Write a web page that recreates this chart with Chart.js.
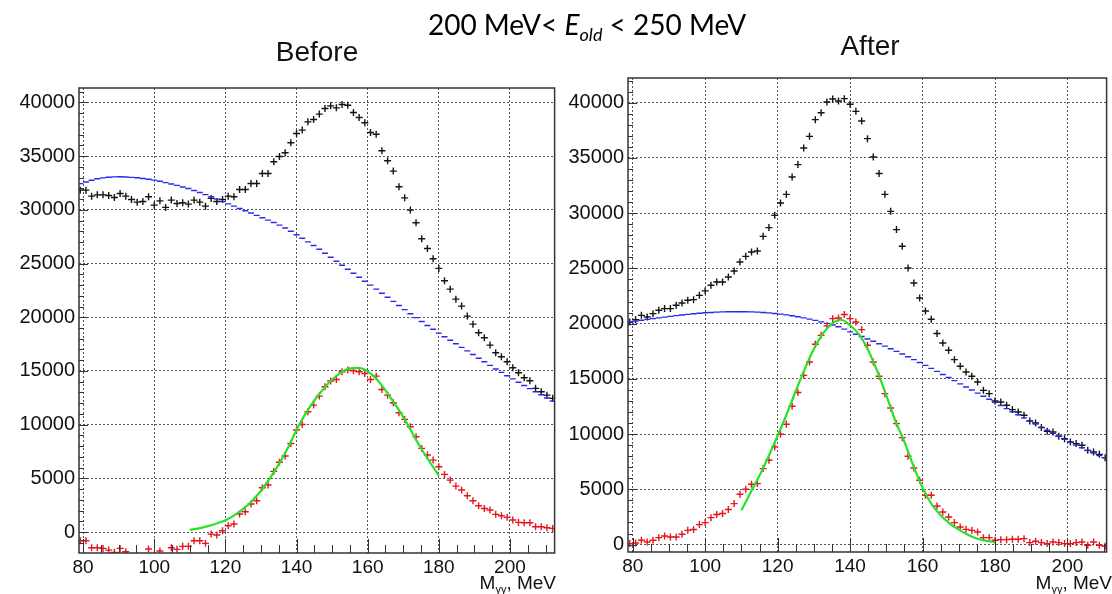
<!DOCTYPE html>
<html>
<head>
<meta charset="utf-8">
<script src="https://cdn.jsdelivr.net/npm/chart.js@4.4.0/dist/chart.umd.min.js"></script>
<style>
    html, body { margin: 0; padding: 0; background: #fff; overflow: hidden; }
    body { width: 1112px; height: 594px; position: relative; font-family: "Liberation Sans", Arial, sans-serif; color: #111; }
    canvas { position: absolute; top: 0; }
    #beforeChart { left: 0; }
    #afterChart { left: 560px; }
    .txt { position: absolute; white-space: nowrap; line-height: 1; }
    #mainTitle { left: 587px; top: 10px; transform: translateX(-50%); font-family: Lato, "Open Sans", sans-serif; font-size: 28px; color: #000; }
    #mainTitle i { font-style: italic; }
    #mainTitle sub { font-size: 18px; vertical-align: -6px; line-height: 0; }
    #beforeTitle { left: 317px; top: 38px; transform: translateX(-50%); font-size: 28px; }
    #afterTitle { left: 870px; top: 32px; transform: translateX(-50%); font-size: 28px; }
    .axisTitle { font-size: 19px; top: 573px; }
    .axisTitle sub { font-size: 11px; vertical-align: -4px; line-height: 0; }
    #beforeAxis { right: 556px; }
    #afterAxis { right: 0px; }
</style>
</head>
<body>

<canvas id="beforeChart" width="560" height="594"></canvas>
<canvas id="afterChart" width="552" height="594"></canvas>

<div id="mainTitle" class="txt">200 MeV&lt; <i>E<sub>old</sub></i> &lt; 250 MeV</div>
<div id="beforeTitle" class="txt">Before</div>
<div id="afterTitle" class="txt">After</div>
<div id="beforeAxis" class="txt axisTitle">M<sub>γγ</sub>, MeV</div>
<div id="afterAxis" class="txt axisTitle">M<sub>γγ</sub>, MeV</div>

<script>

// =====================================
// DATA
// =====================================

// centres of the M_gg bins, MeV
const binCenters = [
    79.2, 80.8, 82.4, 84.0, 85.6, 87.2, 88.8, 90.4, 92.0, 93.6,
    95.2, 96.8, 98.4, 100.0, 101.6, 103.2, 104.8, 106.4, 108.0, 109.6,
    111.2, 112.8, 114.4, 116.0, 117.6, 119.2, 120.8, 122.4, 124.0, 125.6,
    127.2, 128.8, 130.4, 132.0, 133.6, 135.2, 136.8, 138.4, 140.0, 141.6,
    143.2, 144.8, 146.4, 148.0, 149.6, 151.2, 152.8, 154.4, 156.0, 157.6,
    159.2, 160.8, 162.4, 164.0, 165.6, 167.2, 168.8, 170.4, 172.0, 173.6,
    175.2, 176.8, 178.4, 180.0, 181.6, 183.2, 184.8, 186.4, 188.0, 189.6,
    191.2, 192.8, 194.4, 196.0, 197.6, 199.2, 200.8, 202.4, 204.0, 205.6,
    207.2, 208.8, 210.4, 212.0
];

// ---- Before ----
const beforeData = [
    31840, 31840, 31280, 31400, 31400, 31340, 31160, 31530, 31280, 30970,
    30720, 30780, 31220, 30440, 30840, 30230, 30910, 30600, 30660, 30540,
    30910, 30720, 30350, 31070, 30780, 30970, 31280, 31220, 31900, 31900,
    32460, 32460, 33390, 33390, 34480, 34970, 35320, 36250, 37120, 37430,
    38200, 38420, 38920, 39440, 39690, 39500, 39820, 39750, 39070, 38600,
    38110, 37210, 37050, 35500, 34570, 33610, 32150, 31120, 29980, 28800,
    27310, 26410, 25450, 24550, 23400, 22620, 21690, 21040, 20110, 19360,
    18560, 18100, 17410, 16700, 16320, 15860, 15300, 14830, 14370, 14090,
    13380, 13060, 12750, 12450
];

const beforeBackground = [
    32450, 32600, 32760, 32900, 32980, 33040, 33070, 33080, 33060, 33030,
    32990, 32920, 32850, 32770, 32660, 32540, 32410, 32280, 32130, 31990,
    31810, 31620, 31420, 31220, 31000, 30770, 30560, 30350, 30130, 29920,
    29710, 29490, 29270, 29050, 28830, 28580, 28310, 28010, 27690, 27360,
    27020, 26680, 26330, 25960, 25590, 25220, 24850, 24470, 24100, 23730,
    23360, 22990, 22620, 22240, 21860, 21480, 21100, 20710, 20330, 19970,
    19600, 19240, 18880, 18520, 18190, 17860, 17530, 17200, 16870, 16530,
    16190, 15860, 15520, 15180, 14870, 14560, 14260, 13950, 13650, 13360,
    13070, 12780, 12490, 12200
];

const beforeSignal = [
    -810, -810, -1460, -1460, -1520, -1680, -1890, -1520, -1830, -2400,
    -2500, -2350, -1580, -2400, -1770, -2350, -1460, -1610, -1330, -1330,
    -810, -810, -1050, -190, -280, 120, 590, 745, 1680, 1890,
    2610, 2920, 4130, 4380, 5650, 6500, 7080, 8250, 9500, 10020,
    11200, 11820, 12660, 13530, 14060, 14210, 14930, 15080, 15020, 14930,
    14770, 14210, 14520, 13280, 12750, 12040, 11110, 10490, 9810, 8880,
    7790, 7170, 6700, 6080, 5370, 4840, 4280, 3910, 3380, 2920,
    2450, 2200, 2050, 1650, 1520, 1370, 1120, 900, 870, 870,
    500, 500, 400, 340
];

// points on the fitted curve (green)
const fitMass = [
    110, 112.5, 115, 117.5, 120, 122.5, 125, 127.5, 130, 132.5,
    135, 137.5, 140, 142.5, 145, 147.5, 150, 152.5, 155, 157.5,
    160, 162.5, 165, 167.5, 170, 172.5, 175, 177.5, 180
];

const beforeFit = [
    200, 350, 550, 800, 1100, 1550, 2150, 2900, 3850, 5000,
    6300, 7800, 9500, 11000, 12250, 13300, 14200, 14850, 15250, 15280,
    14950, 14250, 13200, 12000, 10700, 9250, 7800, 6500, 5250
];

// ---- After ----
const afterData = [
    20150, 20360, 20750, 20600, 20900, 21210, 21360, 21360, 21660, 21870,
    22110, 22170, 22560, 22960, 23470, 23770, 23770, 24220, 24760, 25580,
    26090, 26480, 26570, 27900, 28690, 29800, 30920, 31700, 33270, 34390,
    35890, 36950, 38460, 39090, 40060, 40330, 40150, 40360, 39850, 39210,
    38340, 36740, 35080, 33580, 31700, 30160, 28510, 27000, 25040, 23680,
    22320, 21140, 20390, 19100, 18250, 17590, 16740, 16140, 15620, 15230,
    14720, 13960, 13660, 13000, 12910, 12610, 12220, 12000, 11700, 11190,
    11000, 10590, 10250, 10190, 9800, 9590, 9290, 9140, 8990, 8530,
    8380, 8170, 7870, 7700
];

const afterBackground = [
    20170, 20240, 20310, 20380, 20450, 20520, 20590, 20660, 20720, 20780,
    20840, 20890, 20940, 20980, 21010, 21040, 21060, 21070, 21080, 21080,
    21070, 21060, 21040, 21010, 20970, 20920, 20860, 20790, 20710, 20620,
    20520, 20410, 20290, 20160, 20020, 19870, 19710, 19500, 19250, 19040,
    18830, 18610, 18400, 18180, 17960, 17730, 17490, 17250, 17000, 16740,
    16480, 16220, 15950, 15680, 15400, 15120, 14840, 14550, 14270, 13990,
    13710, 13430, 13150, 12870, 12590, 12310, 12030, 11750, 11470, 11190,
    10910, 10630, 10350, 10070, 9800, 9530, 9270, 9010, 8760, 8520,
    8290, 8070, 7860, 7660
];

const afterSignal = [
    90, 150, 390, 240, 390, 630, 780, 690, 690, 930,
    1290, 1360, 1810, 1990, 2440, 2720, 2810, 3170, 3710, 4560,
    5010, 5460, 5520, 6880, 7630, 8840, 9990, 10890, 12520, 13760,
    15320, 16530, 18130, 18940, 19800, 20450, 20510, 20820, 20450, 20150,
    19460, 18040, 16530, 15230, 13660, 12360, 10950, 9680, 7990, 6930,
    5820, 4460, 4460, 3490, 2950, 2500, 1990, 1590, 1380, 1290,
    1140, 630, 630, 390, 450, 450, 480, 480, 540, 180,
    300, 180, 90, 240, 180, 90, 90, 180, 240, -60,
    240, -60, -150, 0
];

const afterFit = [
    3100, 4700, 6250, 8000, 9850, 11800, 13900, 15900, 17700, 19100,
    20000, 20350, 19850, 19000, 17600, 15700, 13500, 11200, 9300, 7100,
    5150, 3650, 2650, 1900, 1350, 900, 550, 350, 220
];

// tick labels
const xTickValues = [80, 100, 120, 140, 160, 180, 200];
const yTickValues = [0, 5000, 10000, 15000, 20000, 25000, 30000, 35000, 40000];

// =====================================
// FRAME + INNER TICKS (ROOT style)
// =====================================

const frameTicks = {

    id: "frameTicks",

    afterDraw(chart) {

        const ctx = chart.ctx;
        const a = chart.chartArea;
        const xs = chart.scales.x;
        const ys = chart.scales.y;

        ctx.save();
        ctx.strokeStyle = "#333";
        ctx.lineWidth = 1;

        ctx.beginPath();

        // y ticks on left edge: major every 5000, minor every 1000
        for (let v = Math.ceil(ys.min / 1000) * 1000; v <= ys.max; v += 1000) {
            const y = Math.round(ys.getPixelForValue(v)) + 0.5;
            const len = (v % 5000 === 0) ? 9 : 5;
            ctx.moveTo(a.left, y);
            ctx.lineTo(a.left + len, y);
        }

        // x ticks on bottom edge: major every 20, minor every 5
        for (let v = Math.ceil(xs.min / 5) * 5; v <= xs.max; v += 5) {
            const x = Math.round(xs.getPixelForValue(v)) + 0.5;
            const len = (v % 20 === 0) ? 14 : 8;
            ctx.moveTo(x, a.bottom);
            ctx.lineTo(x, a.bottom - len);
        }

        ctx.stroke();

        // frame
        ctx.lineWidth = 1.5;
        ctx.strokeStyle = "#333";
        ctx.strokeRect(a.left, a.top, a.right - a.left, a.bottom - a.top);

        ctx.restore();

    }

};

// =====================================
// BUILD ONE PANEL
// =====================================

function toPoints(xs, ys) {

    return xs.map((x, i) => ({ x: x, y: ys[i] }));

}

function makePanel(canvasId, p) {

    const canvas = document.getElementById(canvasId);

    return new Chart(canvas.getContext("2d"), {

        type: "scatter",

        data: {

            datasets: [

                {
                    label: "fit",
                    data: toPoints(fitMass, p.fit),
                    showLine: true,
                    borderColor: "rgb(40,225,40)",
                    borderWidth: 2.2,
                    pointRadius: 0,
                    cubicInterpolationMode: "monotone",
                    clip: 0
                },

                {
                    label: "signal",
                    data: toPoints(binCenters, p.signal),
                    pointStyle: "cross",
                    pointRadius: 3.5,
                    borderWidth: 1.4,
                    borderColor: "rgb(230,20,30)",
                    clip: 0
                },

                {
                    label: "background",
                    data: toPoints(binCenters, p.background),
                    pointStyle: "line",
                    pointRadius: 3,
                    borderWidth: 1.4,
                    borderColor: "rgb(40,40,235)",
                    clip: 0
                },

                {
                    label: "data",
                    data: toPoints(binCenters, p.data),
                    pointStyle: "cross",
                    pointRadius: 3.5,
                    borderWidth: 1.4,
                    borderColor: "rgb(20,20,20)",
                    clip: 0
                }

            ]

        },

        options: {

            responsive: false,
            animation: false,
            events: [],

            layout: {
                padding: { top: p.padTop, right: p.padRight, bottom: 0, left: 0 }
            },

            plugins: {
                legend: { display: false },
                tooltip: { enabled: false }
            },

            scales: {

                x: {
                    type: "linear",
                    min: p.xMin,
                    max: p.xMax,
                    afterBuildTicks: s => { s.ticks = xTickValues.map(v => ({ value: v })); },
                    afterFit: s => { s.height = p.xAxisHeight; },
                    grid: { color: "#555", lineWidth: 1, drawTicks: false },
                    border: { display: false, dash: [2, 2] },
                    ticks: {
                        color: "#111",
                        font: { family: "'Liberation Sans', Arial", size: 19 },
                        padding: 3,
                        maxRotation: 0,
                        autoSkip: false,
                        callback: v => String(v)
                    }
                },

                y: {
                    type: "linear",
                    min: p.yMin,
                    max: p.yMax,
                    afterBuildTicks: s => { s.ticks = yTickValues.map(v => ({ value: v })); },
                    afterFit: s => { s.width = p.yAxisWidth; },
                    grid: { color: "#555", lineWidth: 1, drawTicks: false },
                    border: { display: false, dash: [2, 2] },
                    ticks: {
                        color: "#111",
                        font: { family: "'Liberation Sans', Arial", size: 20 },
                        padding: 4,
                        callback: v => String(v)
                    }
                }

            }

        },

        plugins: [frameTicks]

    });

}

// =====================================
// LOAD
// =====================================

makePanel("beforeChart", {
    data: beforeData,
    background: beforeBackground,
    signal: beforeSignal,
    fit: beforeFit,
    xMin: 78.85, xMax: 212.55,
    yMin: -1950, yMax: 41350,
    padTop: 88, padRight: 5,
    xAxisHeight: 41, yAxisWidth: 79
});

makePanel("afterChart", {
    data: afterData,
    background: afterBackground,
    signal: afterSignal,
    fit: afterFit,
    xMin: 78.7, xMax: 210.8,
    yMin: -670, yMax: 42230,
    padTop: 78, padRight: 1,
    xAxisHeight: 42, yAxisWidth: 68
});

</script>
</body>
</html>
